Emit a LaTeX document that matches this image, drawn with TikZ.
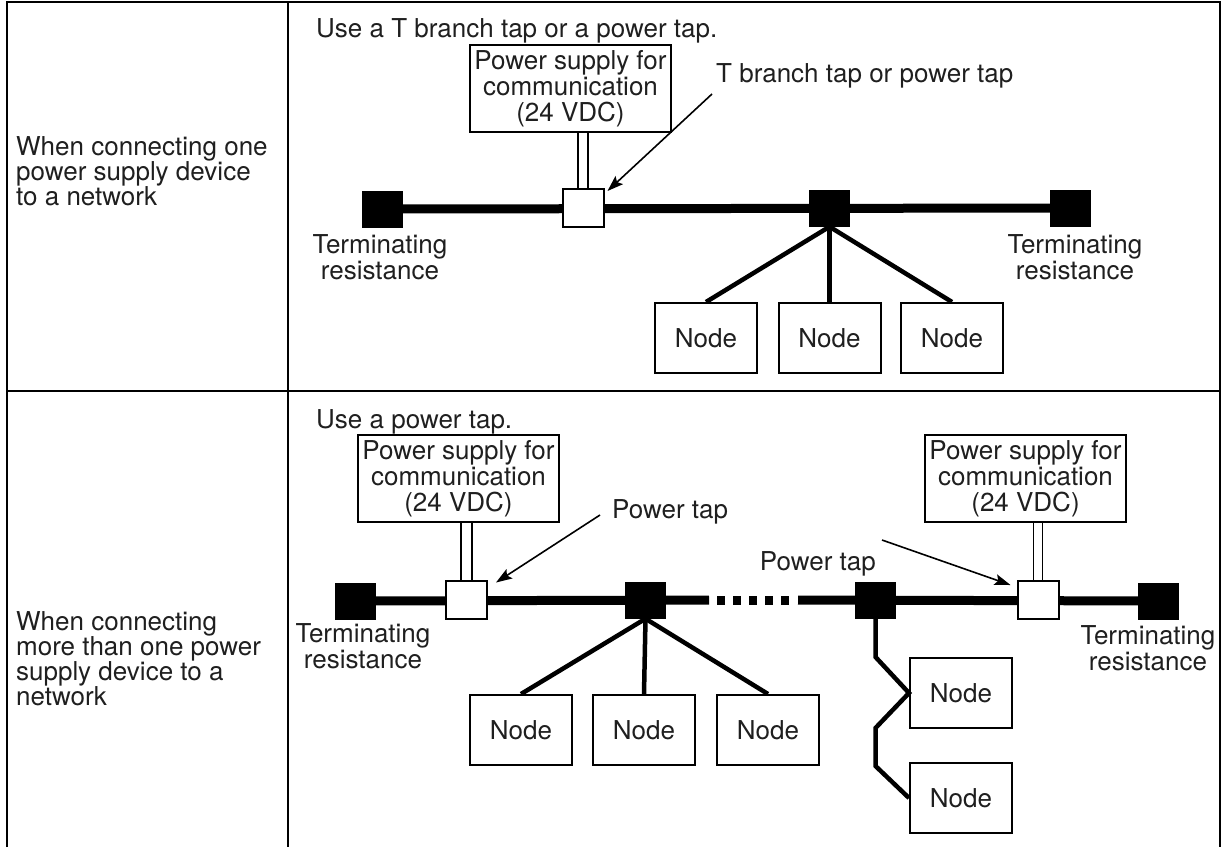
\documentclass[tikz,border=0pt]{standalone}
\usepackage{fontspec}
\setmainfont{TeX Gyre Heros}
\usetikzlibrary{arrows.meta}
\begin{document}
\begin{tikzpicture}[x=1pt,y=-1pt,
  lbl/.style={font=\fontsize{26}{26}\selectfont, text=black!88, inner sep=0pt, align=center},
  lbll/.style={lbl, align=left},
  supply/.style={draw, line width=1.8pt, minimum width=201pt, minimum height=87pt, inner sep=0pt, lbl},
  tapbox/.style={draw, line width=2pt, fill=white, minimum width=41pt, minimum height=38pt, inner sep=0pt},
  term/.style={fill=black, minimum width=41pt, minimum height=37pt, inner sep=0pt},
  devbox/.style={draw, line width=2pt, minimum width=102pt, minimum height=70pt, inner sep=0pt, lbl},
  bus/.style={line width=9pt},
  drop/.style={line width=4.5pt},
  feed/.style={line width=1.6pt},
  ptr/.style={line width=1.6pt, -{Stealth[length=16pt,width=11pt,inset=3pt]}},
  rule/.style={line width=2.5pt}
]
\useasboundingbox (0,0) rectangle (1228,847);

% table frame
\draw[rule] (7,847) -- (7,2) -- (1220,2) -- (1220,847);
\draw[rule] (288,2) -- (288,847);
\draw[line width=2pt] (7,391) -- (1220,391);

% ---------------- upper row: one supply ----------------
\node[lbll, anchor=base west] (condA1) at (16,155) {When connecting one};
\node[lbll, anchor=base west] (condA2) at (16,180) {power supply device};
\node[lbll, anchor=base west] (condA3) at (16,205) {to a network};

\node[lbl, anchor=base west] (hintA) at (316,37) {Use a T branch tap or a power tap.};

\node[supply] (psA) at (570.5,88.5) {Power supply for\\communication\\(24 VDC)};

\node[term] (termA) at (382,209) {};
\node[tapbox] (tapA) at (583,208) {};
\node[term] (midA) at (829.5,208) {};
\node[term] (termB) at (1070.5,208) {};

\draw[bus] (termA.center) -- (termB.center);
\node[tapbox] at (tapA) {};

\draw[feed] ([xshift=-5pt]tapA.north) -- ([xshift=-5pt]tapA.north |- psA.south);
\draw[feed] ([xshift=5pt]tapA.north) -- ([xshift=5pt]tapA.north |- psA.south);

\node[lbl, anchor=base west] (tapnoteA) at (716,82) {T branch tap or power tap};
\coordinate (ptrA) at (712,94);
\draw[ptr] (ptrA) -- ([shift={(3pt,-3pt)}]tapA.north east);

\node[lbl, anchor=north] (resA) at (380,234) {Terminating\\resistance};
\node[lbl, anchor=north] (resB) at (1075,234) {Terminating\\resistance};

\node[devbox] (nA1) at (706,338) {Node};
\node[devbox] (nA2) at (829.5,338) {Node};
\node[devbox] (nA3) at (952,338) {Node};
\draw[drop] (midA.south) -- (nA1.north);
\draw[drop] (midA.south) -- (nA2.north);
\draw[drop] (midA.south) -- (nA3.north);

% ---------------- lower row: several supplies ----------------
\node[lbll, anchor=base west] (condB1) at (16,630) {When connecting};
\node[lbll, anchor=base west] (condB2) at (16,655) {more than one power};
\node[lbll, anchor=base west] (condB3) at (16,680) {supply device to a};
\node[lbll, anchor=base west] (condB4) at (16,705) {network};

\node[lbl, anchor=base west] (hintB) at (316,428) {Use a power tap.};

\node[supply] (psB) at (458.5,478.5) {Power supply for\\communication\\(24 VDC)};
\node[supply] (psC) at (1025.5,478.5) {Power supply for\\communication\\(24 VDC)};

\node[term] (termC) at (355.5,601) {};
\node[tapbox] (tapB) at (466.5,599.5) {};
\node[term] (midB) at (645.5,600) {};
\node[term] (midC) at (875.5,600) {};
\node[tapbox] (tapC) at (1038,600) {};
\node[term] (termD) at (1158.5,601) {};

\coordinate (gapL) at (709,600);
\coordinate (gapR) at (798,600);
\coordinate (dotsL) at (717,600);
\coordinate (dotsR) at (790,600);
\draw[bus] (termC.center) -- (gapL);
\draw[bus, dash pattern=on 8pt off 8pt] (dotsL) -- (dotsR);
\draw[bus] (gapR) -- (termD.center);
\node[tapbox] at (tapB) {};
\node[tapbox] at (tapC) {};

\draw[feed] ([xshift=-5.5pt]tapB.north) -- ([xshift=-5.5pt]tapB.north |- psB.south);
\draw[feed] ([xshift=5.5pt]tapB.north) -- ([xshift=5.5pt]tapB.north |- psB.south);
\draw[feed] ([xshift=-4.5pt]tapC.north) -- ([xshift=-4.5pt]tapC.north |- psC.south);
\draw[feed] ([xshift=4.5pt]tapC.north) -- ([xshift=4.5pt]tapC.north |- psC.south);

\node[lbl, anchor=base west] (tapnoteB) at (612,518) {Power tap};
\coordinate (ptrB) at (600,515);
\draw[ptr] (ptrB) -- ([shift={(8pt,-3pt)}]tapB.north east);

\node[lbl, anchor=base east] (tapnoteC) at (876,570) {Power tap};
\coordinate (ptrC) at (882,540);
\draw[ptr] (ptrC) -- ([shift={(-6pt,-5pt)}]tapC.north west);

\node[lbl, anchor=north] (resC) at (363,623) {Terminating\\resistance};
\node[lbl, anchor=north] (resD) at (1148,625) {Terminating\\resistance};

\node[devbox] (nB1) at (521,730) {Node};
\node[devbox] (nB2) at (644,730) {Node};
\node[devbox] (nB3) at (768,730) {Node};
\draw[drop] (midB.south) -- (nB1.north);
\draw[drop] (midB.south) -- (nB2.north);
\draw[drop] (midB.south) -- (nB3.north);

\node[devbox] (nC1) at (961,693) {Node};
\node[devbox] (nC2) at (961,798) {Node};
\coordinate (zig1) at (875.5,657);
\coordinate (zig2) at (875.5,728);
\coordinate (zig3) at (875.5,766);
\draw[drop, line join=miter] (midC.south) -- (zig1) -- (nC1.west) -- (zig2) -- (zig3) -- (nC2.west);
\end{tikzpicture}
\end{document}
